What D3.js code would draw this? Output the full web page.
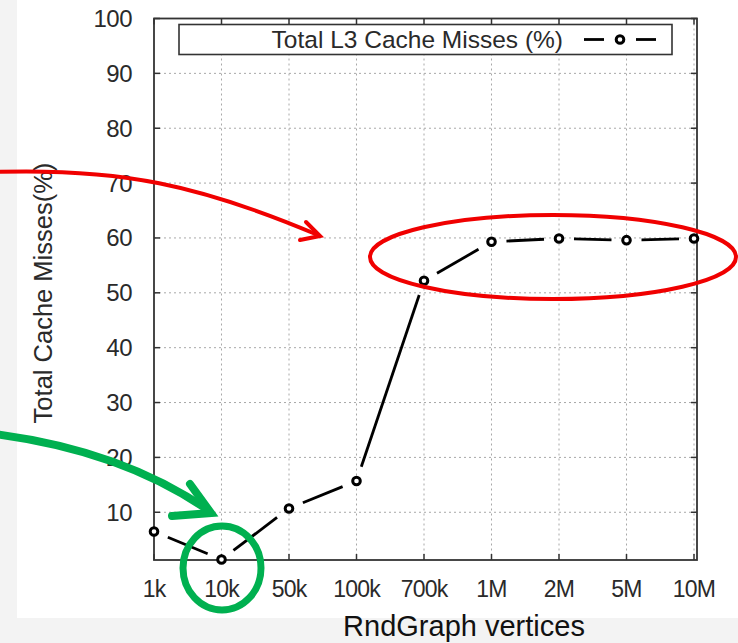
<!DOCTYPE html>
<html><head><meta charset="utf-8">
<script src="https://cdn.jsdelivr.net/npm/d3@7"></script>
<style>
html,body{margin:0;padding:0;background:#f3f3f3;}
svg{display:block;font-family:"Liberation Sans",Arial,sans-serif;}
</style></head>
<body><svg id="c" width="738" height="643"></svg>
<script>
const categories = ["1k","10k","50k","100k","700k","1M","2M","5M","10M"];
const missValues = [6.5, 1.4, 10.7, 15.7, 52.2, 59.3, 59.9, 59.6, 59.9];
const yTicks = [10,20,30,40,50,60,70,80,90,100];
const seriesName = "Total L3 Cache Misses (%)";
const xTitle = "RndGraph vertices";
const yTitle = "Total Cache Misses(%)";

(function(){
const svg = d3.select("#c");
svg.append("rect").attr("x",17).attr("y",0).attr("width",721).attr("height",618).attr("fill","#ffffff");

const x = d3.scaleLinear().domain([0, 8]).range([154, 694]);
const y = d3.scaleLinear().domain([1.3, 100]).range([560, 18.5]);
const pL = 154, pR = 697, pT = y(100), pB = y(1.3);

const g = svg.append("g");
// grid
g.selectAll("line.gx").data(categories.slice(1)).enter().append("line")
  .attr("x1",(d,i)=>x(i+1)).attr("x2",(d,i)=>x(i+1)).attr("y1",pT).attr("y2",pB)
  .attr("stroke","#a8a8a8").attr("stroke-width",1).attr("stroke-dasharray","2,3");
g.selectAll("line.gy").data(yTicks.filter(t=>t<100)).enter().append("line")
  .attr("x1",pL).attr("x2",pR).attr("y1",d=>y(d)).attr("y2",d=>y(d))
  .attr("stroke","#a8a8a8").attr("stroke-width",1).attr("stroke-dasharray","2,3");

// ticks (inward, mirrored)
const tk = 6;
categories.forEach((c,i)=>{
  g.append("line").attr("x1",x(i)).attr("x2",x(i)).attr("y1",pB).attr("y2",pB-tk).attr("stroke","#333").attr("stroke-width",1.5);
  g.append("line").attr("x1",x(i)).attr("x2",x(i)).attr("y1",pT).attr("y2",pT+tk).attr("stroke","#333").attr("stroke-width",1.5);
});
yTicks.forEach(t=>{
  g.append("line").attr("x1",pL).attr("x2",pL+tk).attr("y1",y(t)).attr("y2",y(t)).attr("stroke","#333").attr("stroke-width",1.5);
  g.append("line").attr("x1",pR).attr("x2",pR-tk).attr("y1",y(t)).attr("y2",y(t)).attr("stroke","#333").attr("stroke-width",1.5);
});
// frame
g.append("rect").attr("x",pL).attr("y",pT).attr("width",pR-pL).attr("height",pB-pT)
  .attr("fill","none").attr("stroke","#333").attr("stroke-width",1.8);

// tick labels
g.selectAll("text.yl").data(yTicks).enter().append("text")
  .attr("x",132).attr("y",d=>y(d)+8.5).attr("text-anchor","end")
  .attr("font-size",24).attr("fill","#2a2a2a").attr("letter-spacing","-0.5").text(d=>d);
g.selectAll("text.xl").data(categories).enter().append("text")
  .attr("x",(d,i)=>x(i)).attr("y",597).attr("text-anchor","middle")
  .attr("font-size",23).attr("fill","#2a2a2a").attr("letter-spacing","-0.8").text(d=>d);

// axis titles
svg.append("text").attr("x",464).attr("y",636).attr("text-anchor","middle")
  .attr("font-size",29).attr("fill","#111").text(xTitle);
svg.append("text").attr("transform","translate(52,293) rotate(-90)").attr("text-anchor","middle")
  .attr("font-size",25.5).attr("fill","#2a2a2a").text(yTitle);

// data line with gaps around points
const pts = missValues.map((v,i)=>[x(i), y(v)]);
const gap = 15;
for(let i=0;i<pts.length-1;i++){
  const [x1,y1]=pts[i],[x2,y2]=pts[i+1];
  const dx=x2-x1, dy=y2-y1, L=Math.hypot(dx,dy);
  if(L<=2*gap) continue;
  const ux=dx/L, uy=dy/L;
  g.append("line").attr("x1",x1+ux*gap).attr("y1",y1+uy*gap).attr("x2",x2-ux*gap).attr("y2",y2-uy*gap)
    .attr("stroke","#000").attr("stroke-width",2.8);
}
g.selectAll("circle.pt").data(missValues).enter().append("circle")
  .attr("cx",(d,i)=>x(i)).attr("cy",d=>y(d)).attr("r",3.8)
  .attr("fill","#fff").attr("stroke","#000").attr("stroke-width",3);

// legend
g.append("rect").attr("x",179).attr("y",24.5).attr("width",493).attr("height",30)
  .attr("fill","#fff").attr("stroke","#333").attr("stroke-width",1.6);
g.append("text").attr("x",563).attr("y",48).attr("text-anchor","end")
  .attr("font-size",24.5).attr("fill","#2a2a2a").text(seriesName);
g.append("line").attr("x1",584).attr("x2",604).attr("y1",39.5).attr("y2",39.5).attr("stroke","#000").attr("stroke-width",2.8);
g.append("line").attr("x1",636).attr("x2",656).attr("y1",39.5).attr("y2",39.5).attr("stroke","#000").attr("stroke-width",2.8);
g.append("circle").attr("cx",620).attr("cy",39.5).attr("r",3.8).attr("fill","#fff").attr("stroke","#000").attr("stroke-width",3);

// annotations
const ann = svg.append("g").attr("fill","none").attr("stroke-linecap","round");
const red = "#f00000", green = "#00b050";
ann.append("path").attr("d","M -5 172 C 120 168, 200 185, 318 235").attr("stroke",red).attr("stroke-width",4);
ann.append("path").attr("d","M 300 240 L 320 236 L 306 222").attr("stroke",red).attr("stroke-width",4).attr("stroke-linejoin","miter");
ann.append("ellipse").attr("cx",553).attr("cy",257).attr("rx",183).attr("ry",42).attr("stroke",red).attr("stroke-width",4);
ann.append("path").attr("d","M -5 434 C 80 445, 150 470, 208 510").attr("stroke",green).attr("stroke-width",8);
ann.append("path").attr("d","M 172 516 L 211 513 L 190 484").attr("stroke",green).attr("stroke-width",8).attr("stroke-linejoin","miter");
ann.append("ellipse").attr("cx",222).attr("cy",568).attr("rx",39).attr("ry",42).attr("stroke",green).attr("stroke-width",7);
})();
</script></body></html>
